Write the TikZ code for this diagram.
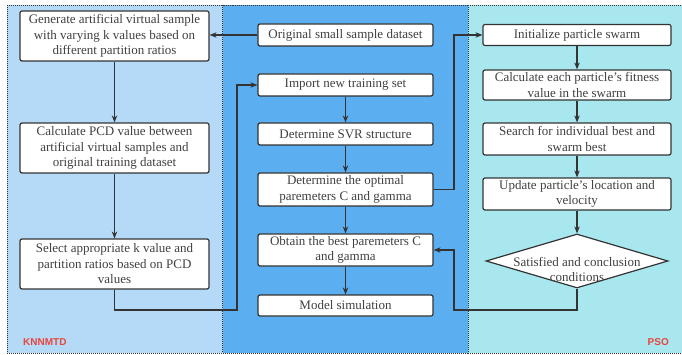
\documentclass[tikz,border=0pt]{standalone}
\usepackage{fontspec}
\setmainfont{Liberation Serif}
\newfontfamily\labfont{Liberation Sans}
\usetikzlibrary{arrows.meta,shapes.geometric}
\definecolor{leftbg}{HTML}{B5DAF7}
\definecolor{midbg}{HTML}{5BAEF0}
\definecolor{rightbg}{HTML}{A9E7EF}
\definecolor{edge}{HTML}{333333}
\definecolor{txt}{HTML}{404040}
\definecolor{lab}{HTML}{E8453C}
\tikzset{
  x=1pt, y=-1pt,
  panel/.style={draw=edge, line width=0.9pt, dash pattern=on 1pt off 1pt},
  box/.style={draw=edge, fill=white, line width=1.2pt, rounded corners=2pt,
    inner sep=0pt, align=center, text=txt,
    font=\fontsize{13}{15.5}\selectfont},
  diam/.style={draw=edge, fill=white, line width=1.2pt, diamond, inner sep=0pt,
    minimum width=182pt, minimum height=54pt},
  dtext/.style={align=center, text=txt, inner sep=0pt,
    font=\fontsize{13}{15.5}\selectfont},
  conn/.style={draw=edge, line width=1.1pt, -{Stealth[length=7pt,width=5.5pt]}},
  tag/.style={text=lab, font=\labfont\bfseries\fontsize{10}{12}\selectfont, inner sep=0pt}
}
\begin{document}
\begin{tikzpicture}
\useasboundingbox (0,0) rectangle (682,355);
% panels
\fill[leftbg] (7,5) rectangle (222.5,353);
\fill[midbg] (222.5,5) rectangle (468,353);
\fill[rightbg] (468,5) rectangle (682,353);
\draw[panel] (7,5) rectangle (222.5,353);
\draw[panel] (222.5,5) rectangle (468,353);
\draw[panel] (468,5) -- (682,5);
\draw[panel] (468,353) -- (682,353);
% left column
\node[box, minimum width=189pt, minimum height=50pt] (L1) at (114.5,36)
  {Generate artificial virtual sample\\with varying k values based on\\different partition ratios};
\node[box, minimum width=189pt, minimum height=50pt] (L2) at (114.5,148)
  {Calculate PCD value between\\artificial virtual samples and\\original training dataset};
\node[box, minimum width=189pt, minimum height=50pt] (L3) at (114.5,264)
  {Select appropriate k value and\\partition ratios based on PCD\\values};
% middle column
\node[box, minimum width=175pt, minimum height=22pt] (M0) at (345.5,35) {Original small sample dataset};
\node[box, minimum width=175pt, minimum height=22pt] (M1) at (345.5,85) {Import new training set};
\node[box, minimum width=175pt, minimum height=22pt] (M2) at (345.5,134) {Determine SVR structure};
\node[box, minimum width=175pt, minimum height=33pt] (M3) at (345.5,189.5) {Determine the optimal\\paremeters C and gamma};
\node[box, minimum width=175pt, minimum height=32pt] (M4) at (345.5,250) {Obtain the best paremeters C\\and gamma};
\node[box, minimum width=175pt, minimum height=21pt] (M5) at (345.5,305.5) {Model simulation};
% right column
\node[box, minimum width=188pt, minimum height=21pt] (R1) at (577,35) {Initialize particle swarm};
\node[box, minimum width=188pt, minimum height=30pt] (R2) at (577,85) {Calculate each particle's fitness\\value in the swarm};
\node[box, minimum width=188pt, minimum height=32pt] (R3) at (577,139) {Search for individual best and\\swarm best};
\node[box, minimum width=188pt, minimum height=32pt] (R4) at (577,194) {Update particle's location and\\velocity};
\node[diam] (D) at (577,261) {};
\node[dtext] (DT) at (577,269.5) {Satisfied and conclusion\\conditions};
% labels
\node[tag, anchor=west] (KN) at (23,342) {KNNMTD};
\node[tag, anchor=east] (PS) at (669,342) {PSO};
% coordinates
\coordinate (c1) at (114.5,310);
\coordinate (c2) at (237,310);
\coordinate (c3) at (237,85);
\coordinate (c4) at (454,189.5);
\coordinate (c5) at (454,35);
\coordinate (c6) at (577,310);
\coordinate (c7) at (454,310);
\coordinate (c8) at (454,250);
% connectors
\draw[conn] (M0.west) -- (M0.west -| L1.east);
\draw[conn] (L1.south) -- (L2.north);
\draw[conn] (L2.south) -- (L3.north);
\draw[conn] (L3.south) -- (c1) -- (c2) -- (c3) -- (M1.west);
\draw[conn] (M1.south) -- (M2.north);
\draw[conn] (M2.south) -- (M3.north);
\draw[conn] (M3.south) -- (M4.north);
\draw[conn] (M4.south) -- (M5.north);
\draw[conn] (M3.east) -- (c4) -- (c5) -- (R1.west);
\draw[conn] (R1.south) -- (R2.north);
\draw[conn] (R2.south) -- (R3.north);
\draw[conn] (R3.south) -- (R4.north);
\draw[conn] (R4.south) -- (D.north);
\draw[conn] (D.south) -- (c6) -- (c7) -- (c8) -- (M4.east);
\end{tikzpicture}
\end{document}
